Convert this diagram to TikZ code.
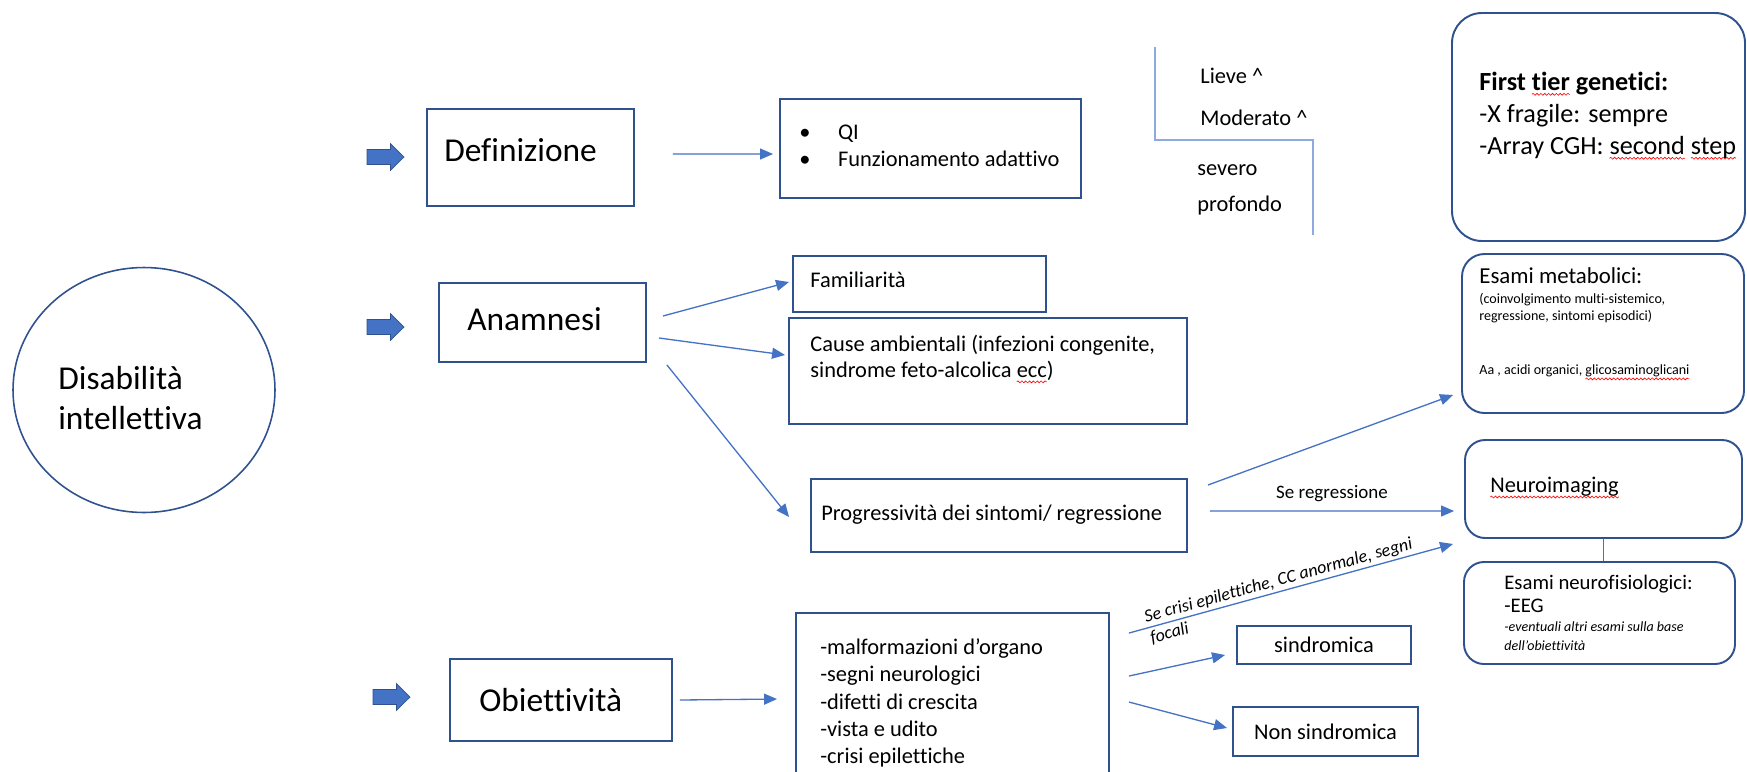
\documentclass[tikz,border=0pt]{standalone}
\usepackage{fontspec}
\setmainfont{Carlito}[Ligatures={NoCommon}]
\usepackage{xcolor}
\usetikzlibrary{arrows.meta,calc,fit,shapes.geometric,decorations.pathmorphing}
\definecolor{boxblue}{HTML}{2F528F}
\definecolor{lineblue}{HTML}{4472C4}
\definecolor{lvlblue}{HTML}{8FAADC}
\newcommand\spellwave[1]{\tikz[baseline=(sw.base)]{\node[inner sep=0pt, outer sep=0pt, anchor=base] (sw) {#1};
    \draw[overlay, red, line width=0.35pt, decorate, decoration={snake, amplitude=0.55pt, segment length=2.2pt}]
        ([yshift=-2.4pt]sw.base west) -- ([yshift=-2.4pt]sw.base east);}}

\begin{document}
\begin{tikzpicture}[x=0.02cm, y=-0.02cm,
                    box/.style={draw=boxblue, line width=1.1pt, inner sep=0pt},
                    conn/.style={draw=lineblue, line width=0.75pt, -{Triangle[length=0.26cm,width=0.22cm]}},
                    tbig/.style={anchor=west, inner sep=0pt, align=left, font=\fontsize{19}{22.8}\selectfont},
                    tmid/.style={anchor=west, inner sep=0pt, align=left, font=\fontsize{12.75}{15.4}\selectfont},
                    tsmall/.style={anchor=west, inner sep=0pt, align=left, font=\fontsize{8}{9.7}\selectfont},
                    blockarr/.pic={\filldraw[fill=lineblue, draw=boxblue, line width=0.4pt]
                        (0,-7.5) -- (23.4,-7.5) -- (23.4,-13.5) -- (37,0) -- (23.4,13.5) -- (23.4,7.5) -- (0,7.5) -- cycle;}]
                    \clip (0,0) rectangle (1747,771);

                    % punto di partenza
                    \node[draw=boxblue, line width=0.9pt, ellipse, minimum width=5.24cm, minimum height=4.9cm, inner sep=0pt] (disab) at (144,390) {};
                    \node[tbig] (disabtxt) at (58,398) {Disabilità\\intellettiva};

                    % le tre voci
                    \pic (arrdef) at (367,157) {blockarr};
                    \pic (arrana) at (367,327) {blockarr};
                    \pic (arrobi) at (373,697) {blockarr};
                    \node[box, fit={(427,109) (634,206)}] (defbox) {};
                    \node[tbig] (deftxt) at (444,150) {Definizione};
                    \node[box, fit={(439,283) (646,362)}] (anabox) {};
                    \node[tbig] (anatxt) at (467,319) {Anamnesi};
                    \node[box, fit={(450,659) (672,741)}] (obibox) {};
                    \node[tbig] (obitxt) at (479,700) {Obiettività};

                    % definizione
                    \node[box, fit={(780,99) (1081,198)}] (qibox) {};
                    \node[tmid] (qitxt) at (799,145.5) {\makebox[22pt][l]{\textbullet}QI\\\makebox[22pt][l]{\textbullet}Funzionamento adattivo};
                    \draw[lvlblue, line width=0.75pt] (1155,47) -- (1155,140) -- (1313,140) -- (1313,235);
                    \node[tmid] (lieve) at (1200,76) {Lieve \textasciicircum};
                    \node[tmid] (moder) at (1200,118) {Moderato \textasciicircum};
                    \node[tmid] (severo) at (1197,170) {severo};
                    \node[tmid] (profo) at (1197,206) {profondo};

                    % anamnesi
                    \node[box, fit={(793,256) (1046,312)}] (fambox) {};
                    \node[tmid] (famtxt) at (810,280) {Familiarità};
                    \node[box, fit={(789,318) (1187,424)}] (causebox) {};
                    \node[tmid, font=\fontsize{12.75}{14.8}\selectfont] (causetxt) at (810,358) {Cause ambientali (infezioni congenite,\\sindrome feto-alcolica \spellwave{ecc})};
                    \node[box, fit={(811,479) (1187,552)}] (progbox) {};
                    \node[tmid] (progtxt) at (821,515) {Progressività dei sintomi/ regressione};

                    % obiettivita
                    \node[box, fit={(796,613) (1109,800)}] (listbox) {};
                    \node[tmid, font=\fontsize{12.75}{15.5}\selectfont] (listtxt) at (820,703) {-malformazioni d’organo\\-segni neurologici\\-difetti di crescita\\-vista e udito\\-crisi epilettiche};
                    \node[box, minimum width=3.48cm, minimum height=0.76cm, font=\fontsize{12.75}{15.4}\selectfont] (sindbox) at (1324,645) {sindromica};
                    \node[box, minimum width=3.7cm, minimum height=0.98cm, font=\fontsize{12.75}{15.4}\selectfont] (nonbox) at (1325.5,731.5) {Non sindromica};

                    % esami
                    \node[box, rounded corners=0.6cm, fit={(1452,13) (1745,241)}] (genbox) {};
                    \node[tmid, font=\fontsize{14.9}{18.2}\selectfont] (gentxt) at (1479,115) {\textbf{First \spellwave{tier} genetici:}\\-X fragile: sempre\\-Array CGH: \spellwave{second} \spellwave{step}};
                    \node[box, rounded corners=0.45cm, fit={(1462,254) (1744,413)}] (metbox) {};
                    \node[tmid, font=\fontsize{13}{15}\selectfont] (mettitle) at (1479,276) {Esami metabolici:};
                    \node[tsmall] (metdet) at (1479,308.5) {(coinvolgimento multi-sistemico,\\regressione, sintomi episodici)};
                    \node[tsmall] (metlist) at (1479,371) {Aa , acidi organici, \spellwave{glicosaminoglicani}};
                    \node[box, rounded corners=0.4cm, fit={(1465,440) (1742,538)}] (neubox) {};
                    \node[tmid] (neutxt) at (1490,487) {\spellwave{Neuroimaging}};
                    \node[box, rounded corners=0.4cm, fit={(1464,562) (1735,664)}] (eegbox) {};
                    \node[tmid, font=\fontsize{11.8}{13}\selectfont] (eegtxt) at (1504,593.5) {Esami neurofisiologici:\\-EEG};
                    \node[tsmall, font=\itshape\fontsize{8}{10.8}\selectfont] (eegdet) at (1504,636.5) {-eventuali altri esami sulla base\\dell’obiettività};

                    % frecce
                    \draw[conn] ($(defbox.east)+(38,-3.5)$) -- ($(qibox.west)+(-6,5.5)$);
                    \draw[conn] ($(anabox.east)+(16,-6.5)$) -- ($(fambox.west)+(-3,-2)$);
                    \draw[conn] ($(anabox.east)+(12,15.5)$) -- ($(causebox.west)+(-3,-16)$);
                    \draw[conn] ($(anabox.east)+(20,42.5)$) -- ($(progbox.west)+(-21,1.5)$);
                    \draw[conn] ($(progbox.east)+(20,-30.5)$) -- ($(metbox.west)+(-8,61.5)$);
                    \draw[conn] ($(progbox.east)+(22,-4.5)$) -- node[above=5pt, inner sep=0pt, font=\fontsize{10.8}{13}\selectfont] (lblreg) {Se regressione} ($(neubox.west)+(-10,22)$);
                    \draw[conn] ($(obibox.east)+(7,0)$) -- ($(listbox.north west)+(-18,87)$);
                    \draw[conn] ($(listbox.north east)+(19,21)$) -- node[pos=0.47, sloped, align=left, inner sep=0pt, font=\itshape\fontsize{10.2}{12.5}\selectfont] (lblcrisi) {Se crisi epilettiche, CC anormale, segni\\focali} ($(neubox.south west)+(-11,5)$);
                    \draw[conn] ($(listbox.north east)+(19,64)$) -- ($(sindbox.west)+(-11,10)$);
                    \draw[conn] ($(listbox.north east)+(19,90)$) -- ($(nonbox.west)+(-5,-3.5)$);
                    \draw[lineblue, line width=0.75pt] (neubox.south) -- (neubox.south |- eegbox.north);
\end{tikzpicture}
\end{document}
